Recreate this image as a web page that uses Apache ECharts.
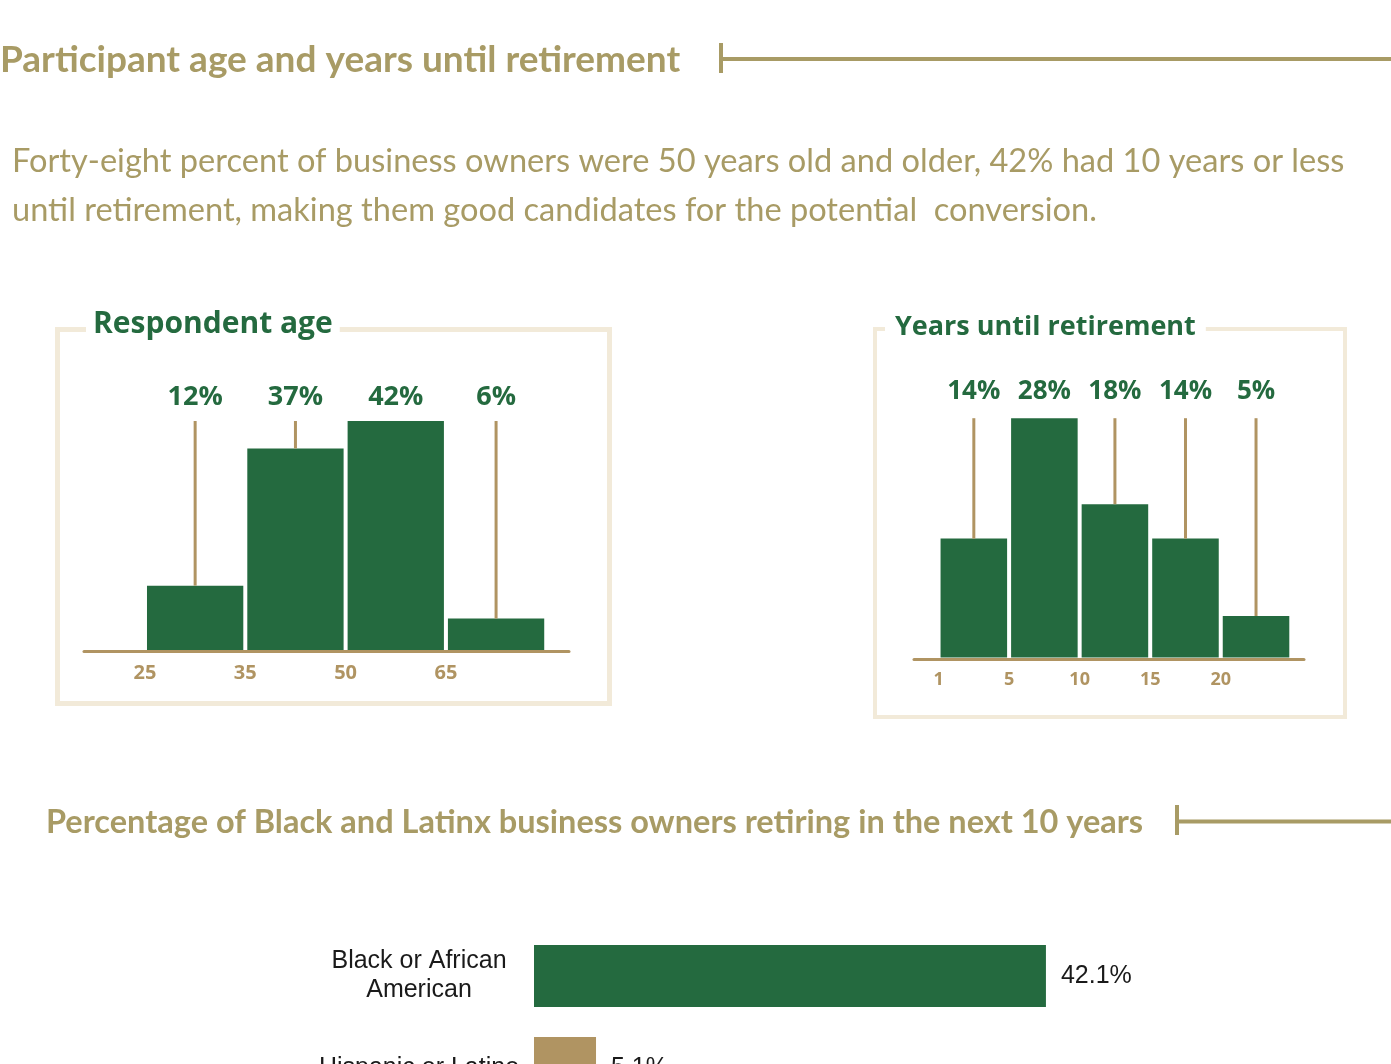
<!DOCTYPE html>
<html>
<head>
<meta charset="utf-8">
<script src="https://cdn.jsdelivr.net/npm/echarts@6/dist/echarts.min.js"></script>
<style>
  html, body { margin: 0; padding: 0; background: #fff; }
  #main { width: 1391px; height: 1064px; }
</style>
</head>
<body>
<div id="main"></div>
<script>
// Respondent age: bin edges (tick labels) and share of respondents per bin
const ageEdges = ['25', '35', '50', '65'];
const ageShare = [12, 37, 42, 6];

// Years until retirement: bin edges and share per bin
const yearEdges = ['1', '5', '10', '15', '20'];
const yearShare = [14, 28, 18, 14, 5];

// Owners retiring in the next 10 years, by group
const groups = ['Black or African\nAmerican', 'Hispanic or Latino'];
const retiringShare = [42.1, 5.1];

const GREEN = '#246a3f';
const TAN = '#b09462';
const GOLD = '#a89b65';
const FRAME = '#f2ead9';
const groupColors = [GREEN, TAN];

// Histogram bar with a leader line up to a common label row
function histRender(shares, labelGap, labelSize) {
  const top = Math.max(...shares);
  return function (params, api) {
    const i = api.value(0);
    const v = api.value(1);
    const base = api.coord([i, 0]);
    const end = api.coord([i + 1, v]);
    const mid = api.coord([i + 0.5, top]);
    const barTop = end[1];
    const children = [{
      type: 'rect',
      shape: { x: base[0] + 2, y: barTop, width: end[0] - base[0] - 4, height: base[1] - 1.5 - barTop },
      style: { fill: GREEN }
    }];
    if (barTop - mid[1] > 1) {
      children.push({
        type: 'line',
        shape: { x1: mid[0], y1: mid[1], x2: mid[0], y2: barTop },
        style: { stroke: TAN, lineWidth: 3 }
      });
    }
    children.push({
      type: 'text',
      style: {
        text: v + '%', x: mid[0], y: mid[1] - labelGap,
        textAlign: 'center', textVerticalAlign: 'middle',
        font: '700 ' + labelSize + 'px "Open Sans"', fill: GREEN
      }
    });
    return { type: 'group', children: children };
  };
}

function edgeAxis(grid, min, max, edges, size, margin) {
  return {
    gridIndex: grid, type: 'value', min: min, max: max,
    axisLine: { show: true, onZero: false, lineStyle: { color: TAN, width: 3 } },
    axisTick: { show: false },
    splitLine: { show: false },
    axisLabel: {
      customValues: edges.map((e, i) => i),
      formatter: (v) => edges[Math.round(v)] || '',
      color: TAN, fontFamily: 'Open Sans', fontWeight: 700, fontSize: size, margin: margin
    }
  };
}

const chart = echarts.init(document.getElementById('main'), null, { renderer: 'canvas' });

chart.setOption({
  animation: false,
  backgroundColor: '#fff',
  grid: [
    { left: 84, width: 485, top: 421, height: 230.5, outerBoundsMode: 'none' },
    { left: 914, width: 390, top: 418.2, height: 240.8, outerBoundsMode: 'none' },
    { left: 534, width: 608, top: 930, height: 184, outerBoundsMode: 'none' }
  ],
  xAxis: [
    edgeAxis(0, -0.608, 4.227, ageEdges, 20, 12),
    edgeAxis(1, -0.348, 5.18, yearEdges, 18, 12),
    { gridIndex: 2, type: 'value', min: 0, max: 50, show: false }
  ],
  yAxis: [
    { gridIndex: 0, type: 'value', min: 0, max: Math.max(...ageShare), show: false },
    { gridIndex: 1, type: 'value', min: 0, max: Math.max(...yearShare), show: false },
    {
      gridIndex: 2, type: 'category', data: groups, inverse: true,
      axisLine: { show: false }, axisTick: { show: false },
      axisLabel: {
        align: 'center', margin: 115, color: '#1a1a1a',
        fontFamily: 'Liberation Sans', fontSize: 25, lineHeight: 29,
        padding: [30, 0, 0, 0]
      }
    }
  ],
  series: [
    {
      type: 'custom', xAxisIndex: 0, yAxisIndex: 0,
      renderItem: histRender(ageShare, 24, 27),
      data: ageShare.map((v, i) => [i, v]),
      clip: false
    },
    {
      type: 'custom', xAxisIndex: 1, yAxisIndex: 1,
      renderItem: histRender(yearShare, 27, 26),
      data: yearShare.map((v, i) => [i, v]),
      clip: false
    },
    {
      type: 'bar', xAxisIndex: 2, yAxisIndex: 2, barWidth: 62,
      data: retiringShare.map((v, i) => ({ value: v, itemStyle: { color: groupColors[i] } })),
      label: {
        show: true, position: 'right', distance: 15,
        formatter: (p) => p.value + '%',
        color: '#1a1a1a', fontFamily: 'Liberation Sans', fontSize: 25,
        padding: [3, 0, 0, 0]
      }
    }
  ],
  graphic: [
    // Section heading with rule
    { type: 'text', style: { text: 'Participant age and years until retirement', x: 0, y: 60, textVerticalAlign: 'middle', font: '700 37px Lato', fill: GOLD } },
    { type: 'line', shape: { x1: 721, y1: 43, x2: 721, y2: 73 }, style: { stroke: GOLD, lineWidth: 4 } },
    { type: 'line', shape: { x1: 723, y1: 59, x2: 1391, y2: 59 }, style: { stroke: GOLD, lineWidth: 4 } },

    // Summary paragraph
    { type: 'text', style: { text: 'Forty-eight percent of business owners were 50 years old and older, 42% had 10 years or less', x: 12, y: 161, textVerticalAlign: 'middle', font: '400 32.6px Lato', fill: GOLD } },
    { type: 'text', style: { text: 'until retirement, making them good candidates for the potential  conversion.', x: 12, y: 210, textVerticalAlign: 'middle', font: '400 32.6px Lato', fill: GOLD } },

    // Frames around the two histograms
    { type: 'rect', shape: { x: 57.5, y: 329.5, width: 552, height: 374 }, style: { fill: 'none', stroke: FRAME, lineWidth: 5 } },
    { type: 'rect', shape: { x: 875, y: 329, width: 470, height: 388 }, style: { fill: 'none', stroke: FRAME, lineWidth: 4 } },
    { type: 'text', z: 10, style: { text: 'Respondent age', x: 86, y: 324, textVerticalAlign: 'middle', font: '700 30px "Open Sans"', fill: GREEN, backgroundColor: '#fff', padding: [2, 7] } },
    { type: 'text', z: 10, style: { text: 'Years until retirement', x: 885, y: 327, textVerticalAlign: 'middle', font: '700 27px "Open Sans"', fill: GREEN, backgroundColor: '#fff', padding: [2, 10] } },

    // Second section heading with rule
    { type: 'text', style: { text: 'Percentage of Black and Latinx business owners retiring in the next 10 years', x: 46, y: 823, textVerticalAlign: 'middle', font: '700 32.5px Lato', fill: GOLD } },
    { type: 'line', shape: { x1: 1177, y1: 805, x2: 1177, y2: 835 }, style: { stroke: GOLD, lineWidth: 4 } },
    { type: 'line', shape: { x1: 1179, y1: 821.5, x2: 1391, y2: 821.5 }, style: { stroke: GOLD, lineWidth: 4 } }
  ]
});
</script>
</body>
</html>
